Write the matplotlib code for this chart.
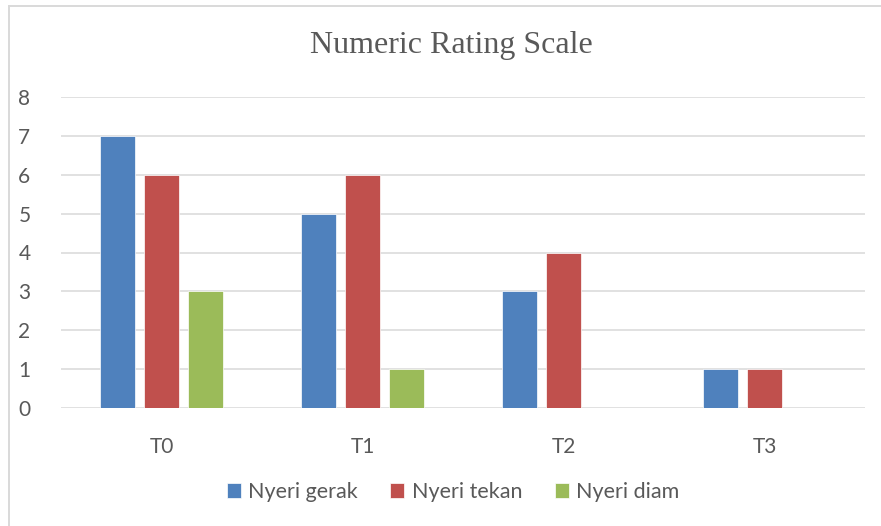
import matplotlib
matplotlib.use("Agg")
import matplotlib.pyplot as plt
import numpy as np
from matplotlib.lines import Line2D

categories = ["T0", "T1", "T2", "T3"]
series_names = ["Nyeri gerak", "Nyeri tekan", "Nyeri diam"]
nyeri_gerak = [7, 5, 3, 1]
nyeri_tekan = [6, 6, 4, 1]
nyeri_diam = [3, 1, 0, 0]
y_ticks = [0, 1, 2, 3, 4, 5, 6, 7, 8]

COLORS = ["#4F81BD", "#C0504D", "#9BBB59"]
GRID = "#D9D9D9"
TEXT = "#595959"

W, H = 881, 526
fig = plt.figure(figsize=(W / 100, H / 100), dpi=100)
fig.patch.set_facecolor("white")

# chart border (left and top visible, rest cropped)
fig.add_artist(Line2D([9 / W, 9 / W], [0, 1 - 6 / H], transform=fig.transFigure,
                      color=GRID, linewidth=1.4))
fig.add_artist(Line2D([9 / W, 1], [1 - 6 / H, 1 - 6 / H], transform=fig.transFigure,
                      color=GRID, linewidth=1.4))

ax = fig.add_axes([61 / W, 1 - 408 / H, (865 - 61) / W, (408 - 97) / H])

x = np.arange(len(categories))
bar_w = 0.174
step = 0.221
for i, (vals, name) in enumerate(zip([nyeri_gerak, nyeri_tekan, nyeri_diam], series_names)):
    ax.bar(x + (i - 1) * step, vals, width=bar_w, color=COLORS[i], label=name,
           edgecolor="white", linewidth=0.5, zorder=3)

ax.set_xlim(-0.5, len(categories) - 0.5)
ax.set_ylim(0, 8)
ax.set_yticks(y_ticks)
ax.set_xticks(x)
ax.set_xticklabels(categories)
ax.yaxis.grid(True, color=GRID, linewidth=1.1, zorder=0)
ax.set_axisbelow(True)
for s in ax.spines.values():
    s.set_visible(False)
ax.tick_params(axis="both", length=0, labelsize=15, labelcolor=TEXT)
ax.tick_params(axis="y", pad=22)
ax.tick_params(axis="x", pad=21)
for lab in ax.get_xticklabels() + ax.get_yticklabels():
    lab.set_family("Lato")

cx = 451 / W  # chart is cropped on the right, so its centre sits right of the image centre
fig.text(cx, 1 - 46 / H, "Numeric Rating Scale", ha="center", va="center",
         fontsize=23, color=TEXT, family="Liberation Serif")

leg = fig.legend(loc="center", bbox_to_anchor=(cx + 2 / W, 1 - 492 / H), ncol=3,
                 frameon=False, prop={"family": "Lato", "size": 15.5},
                 handlelength=0.65, handleheight=0.65, handletextpad=0.35,
                 columnspacing=1.5)
for t in leg.get_texts():
    t.set_color(TEXT)

fig.savefig("out.png", dpi=100)
